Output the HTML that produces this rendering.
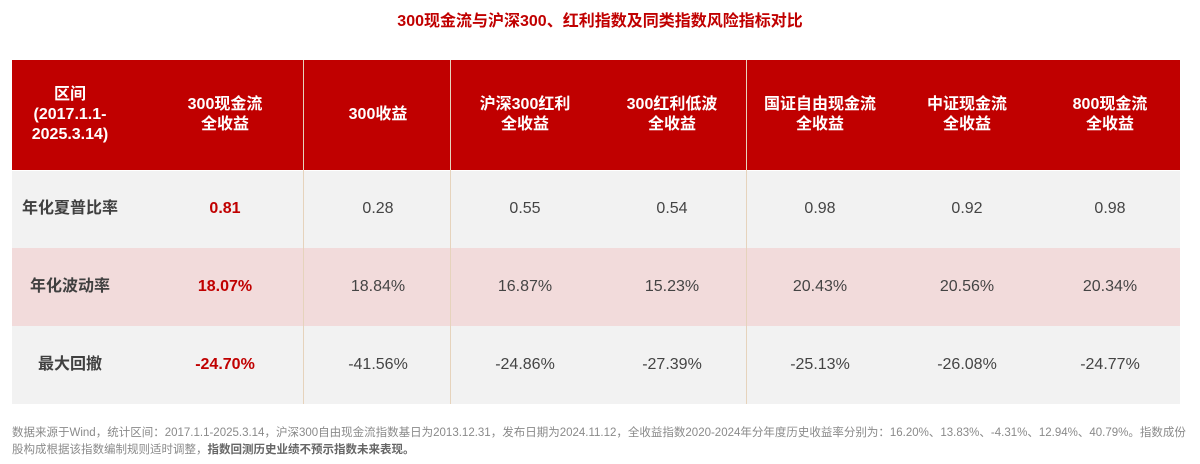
<!DOCTYPE html>
<html><head><meta charset="utf-8"><style>
body{margin:0;width:1200px;height:464px;background:#fff;position:relative;overflow:hidden;font-family:"Liberation Sans","Noto Sans CJK SC",sans-serif}
.a{position:absolute}
.t{position:absolute;text-align:center;transform:translateX(-50%);white-space:nowrap}
.h{color:#fff;font-weight:bold;font-size:16px;line-height:20px}
.v{font-size:16px;color:#444;line-height:20px}
.vl{position:absolute;width:1px;background:#e6d3bc}
</style></head><body>
<div class="t" style="left:600px;top:7px;color:#c00000;font-weight:bold;font-size:16px">300现金流与沪深300、红利指数及同类指数风险指标对比</div>
<div class="a" style="left:12px;top:60px;width:1168px;height:110px;background:#c00000"></div>
<div class="a" style="left:12px;top:171px;width:1168px;height:77px;background:#f2f2f2"></div>
<div class="a" style="left:12px;top:248px;width:1168px;height:78px;background:#f2dbdb"></div>
<div class="a" style="left:12px;top:326px;width:1168px;height:78px;background:#f2f2f2"></div>
<div class="vl" style="left:303px;top:60px;height:344px"></div>
<div class="vl" style="left:450px;top:60px;height:344px"></div>
<div class="vl" style="left:746px;top:60px;height:344px"></div>
<div id="tbl"></div>
<div class="a" style="left:12px;top:425px;width:1180px;font-size:11.5px;line-height:17px;color:#8a8a8a">数据来源于Wind，统计区间：2017.1.1-2025.3.14，沪深300自由现金流指数基日为2013.12.31，发布日期为2024.11.12，全收益指数2020-2024年分年度历史收益率分别为：16.20%、13.83%、-4.31%、12.94%、40.79%。指数成份股构成根据该指数编制规则适时调整，<b style="color:#666">指数回测历史业绩不预示指数未来表现。</b></div>
<script>
const centers=[70,225,378,525,672,820,967,1110];
const headers=["区间<br>(2017.1.1-<br>2025.3.14)","300现金流<br>全收益","300收益","沪深300红利<br>全收益","300红利低波<br>全收益","国证自由现金流<br>全收益","中证现金流<br>全收益","800现金流<br>全收益"];
const rowLabels=["年化夏普比率","年化波动率","最大回撤"];
const sharpe=["0.81","0.28","0.55","0.54","0.98","0.92","0.98"];
const vol=["18.07%","18.84%","16.87%","15.23%","20.43%","20.56%","20.34%"];
const dd=["-24.70%","-41.56%","-24.86%","-27.39%","-25.13%","-26.08%","-24.77%"];
const rows=[sharpe,vol,dd];
const rowMid=[209,287,365];
const tbl=document.getElementById('tbl');
headers.forEach((h,i)=>{
 const d=document.createElement('div');
 
 
 d.className='t h';d.innerHTML=h;
 d.style.left=centers[i]+'px';
 const n=h.split('<br>').length;d.style.top=(115-n*10)+'px';
 tbl.appendChild(d);
});
rowLabels.forEach((l,r)=>{
 const d=document.createElement('div');
 
 
 d.className='t';d.textContent=l;
 d.style.cssText+=`left:${centers[0]}px;top:${rowMid[r]-10}px;font-size:16px;font-weight:bold;color:#404040;line-height:20px`;
 tbl.appendChild(d);
 rows[r].forEach((v,i)=>{
  const c=document.createElement('div');
  
  
  c.className='t v';c.textContent=v;
  c.style.left=centers[i+1]+'px';c.style.top=(rowMid[r]-10)+'px';
  if(i===0){c.style.color='#c00000';c.style.fontWeight='bold';}
  tbl.appendChild(c);
 });
});
</script>
</body></html>
